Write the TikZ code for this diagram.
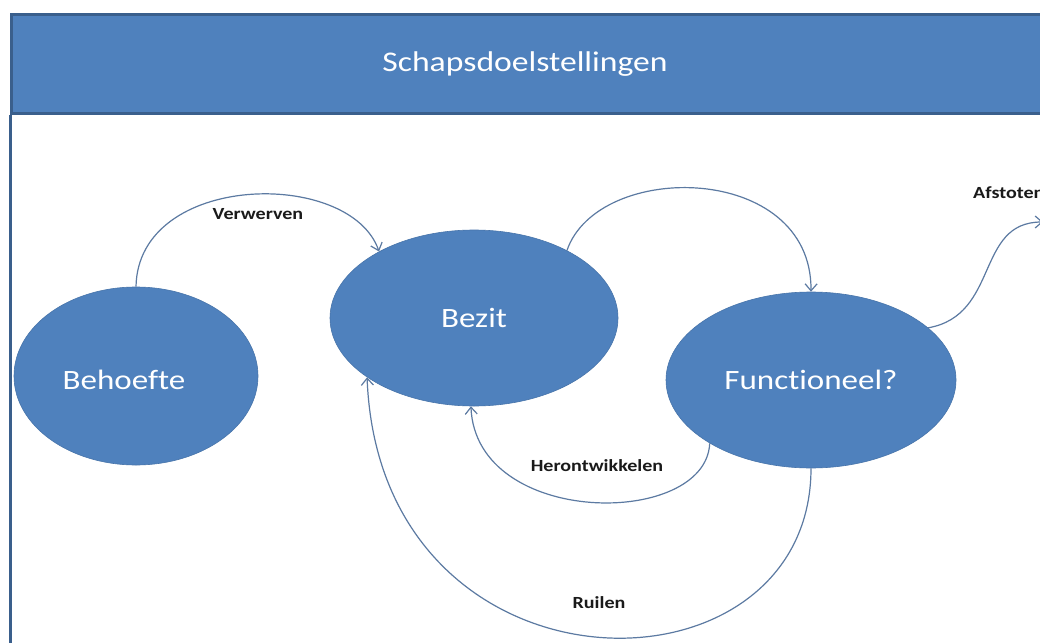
\documentclass[tikz,border=0pt]{standalone}
\usepackage{fontspec}
\setmainfont[FakeStretch=1.18, Ligatures=NoCommon]{Carlito}
\usetikzlibrary{shapes.geometric,arrows.meta}
\definecolor{fillblue}{HTML}{4F81BD}
\definecolor{edgeblue}{HTML}{3A5F8C}
\definecolor{lineblue}{RGB}{92,122,162}
\definecolor{labelcol}{HTML}{1A1A1A}
\tikzset{
  state/.style={ellipse, fill=fillblue, draw=fillblue!90!black, line width=0.6pt, inner sep=0pt, text=white, font=\fontsize{28}{32}\selectfont},
  flow/.style={draw=lineblue, line width=1.2pt, -{Straight Barb[length=7pt,width=12pt]}},
  lbl/.style={text=labelcol, font=\fontsize{17}{20}\selectfont\bfseries, inner sep=0pt},
}
\begin{document}
\begin{tikzpicture}[x=1pt,y=-1pt]
\useasboundingbox (0,0) rectangle (1040,642);
\clip (0,0) rectangle (1040,642);
\fill[white] (0,0) rectangle (1040,642);
% header
\node[draw=edgeblue, line width=3pt, fill=fillblue, minimum width=1040pt, minimum height=99pt, anchor=north west, inner sep=0pt] (head) at (10,13) {};
\node[text=white, font=\fontsize{28.5}{32}\selectfont] (title) at (525,64) {Schapsdoelstellingen};
\draw[edgeblue, line width=3pt] (head.south west) -- ++(0,540);
% states
\node[state, minimum width=244pt, minimum height=178pt] (beh) at (136,376) {};
\node[text=white, font=\fontsize{28}{32}\selectfont] (behT) at (124,380) {Behoefte};
\node[state, minimum width=288pt, minimum height=176pt] (bez) at (474,318) {Bezit};
\node[state, minimum width=290pt, minimum height=176pt] (fun) at (811,380) {Functioneel?};
\coordinate (afend) at (1043,222);
% connectors
\draw[flow] (beh.north) .. controls (138,172) and (350,168) .. (bez.145);
\draw[flow] (bez.36) .. controls (598,160) and (812,162) .. (fun.north);
\draw[flow] (fun.24) .. controls (1000,315) and (975,222) .. (afend);
\draw[flow] (fun.212) .. controls (706,528) and (476,528) .. (bez.268);
\draw[flow] (fun.south) .. controls (811,708) and (380,708) .. (bez.209);
% labels
\node[lbl] (l1) at (258,214) {Verwerven};
\node[lbl, anchor=west] (l2) at (973,193) {Afstoten};
\node[lbl] (l3) at (597,466) {Herontwikkelen};
\node[lbl] (l4) at (599,603) {Ruilen};
\end{tikzpicture}
\end{document}
